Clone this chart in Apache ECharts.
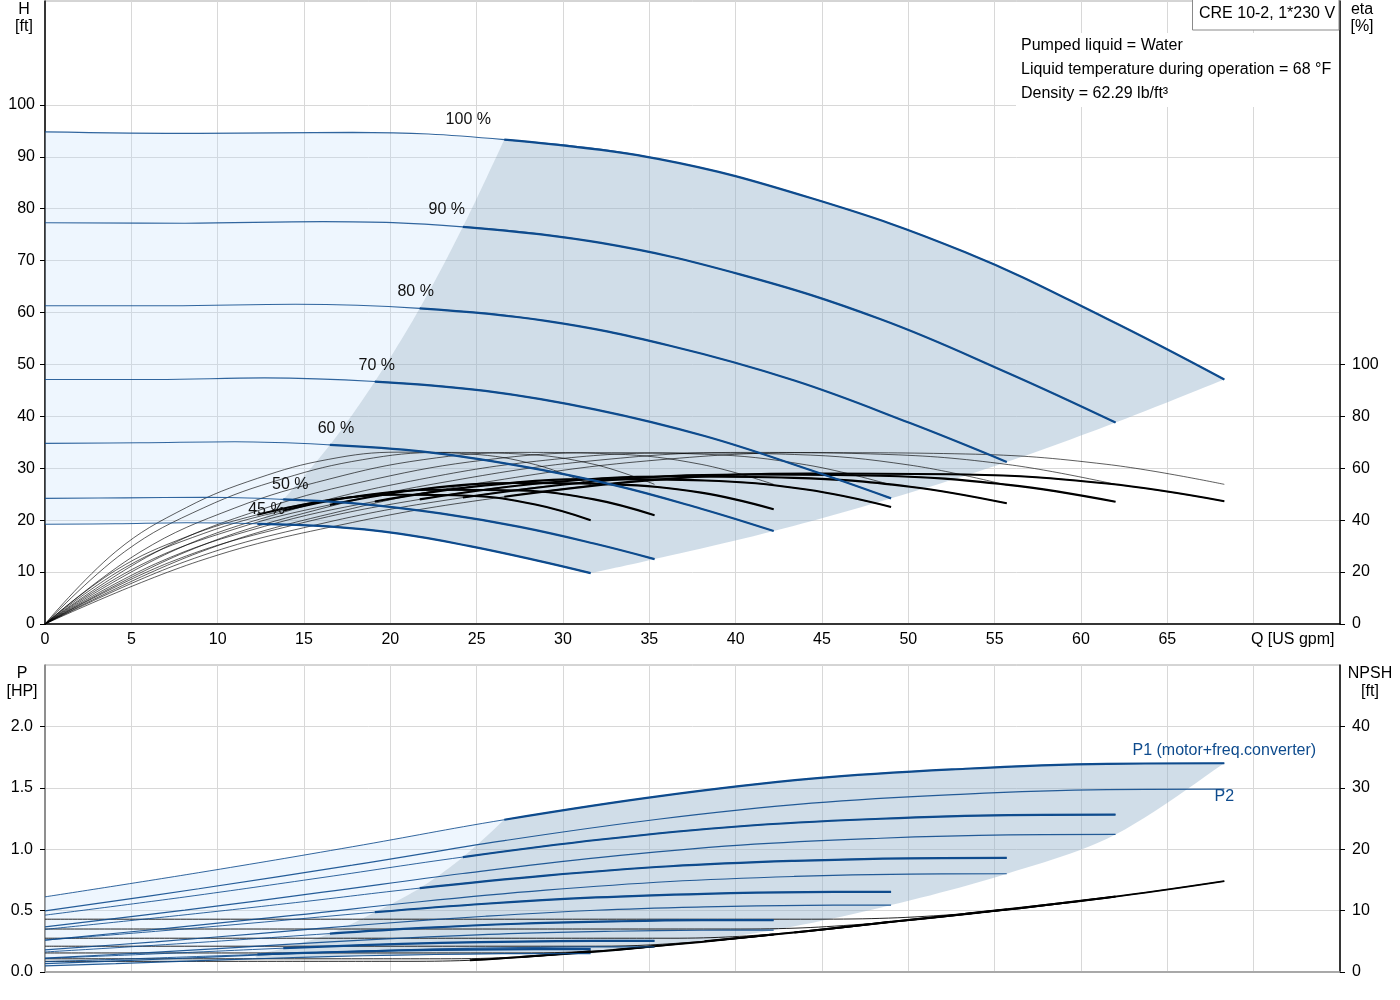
<!DOCTYPE html>
<html><head><meta charset="utf-8">
<script src="https://cdn.jsdelivr.net/npm/echarts@6/dist/echarts.min.js"></script>
<style>html,body{margin:0;padding:0;background:#fff}#c{width:1400px;height:1000px}</style>
</head><body><div id="c"></div>
<script>
// ---------------- DATA ----------------
const speedLabels = ['100 %', '90 %', '80 %', '70 %', '60 %', '50 %', '45 %'];

// flow points per speed curve [US gpm]
const q100 = [0, 8.9, 17.8, 26.6, 35.5, 44.4, 53.3, 61.5, 68.3];
const q90  = [0, 8.1, 16.1, 24.2, 32.2, 40.3, 48.4, 55.8, 62.0];
const q80  = [0, 7.2, 14.5, 21.7, 29.0, 36.2, 43.4, 50.1, 55.7];
const q70  = [0, 6.4, 12.7, 19.1, 25.5, 31.9, 38.2, 44.1, 49.0];
const q60  = [0, 5.5, 11.0, 16.5, 21.9, 27.4, 32.9, 38.0, 42.2];
const q50  = [0, 4.6, 9.2, 13.8, 18.4, 22.9, 27.5, 31.8, 35.3];
const q45  = [0, 4.1, 8.2, 12.3, 16.4, 20.5, 24.6, 28.4, 31.6];

// head H [ft]
const h100 = [94.8, 94.5, 94.7, 93.3, 89.6, 82.0, 71.6, 58.8, 47.1];
const h90  = [77.3, 77.2, 77.5, 76.5, 73.4, 67.3, 58.7, 48.3, 38.8];
const h80  = [61.3, 61.3, 61.6, 60.8, 58.4, 53.6, 46.9, 38.7, 31.2];
const h70  = [47.1, 47.1, 47.4, 46.7, 44.9, 41.3, 36.2, 29.9, 24.2];
const h60  = [34.8, 34.9, 35.1, 34.5, 33.2, 30.5, 26.8, 22.2, 17.9];
const h50  = [24.2, 24.3, 24.4, 24.0, 23.1, 21.3, 18.7, 15.5, 12.5];
const h45  = [19.2, 19.3, 19.5, 19.3, 18.8, 17.4, 15.0, 12.3, 9.8];

// pump efficiency (thin) [%]
const ep100 = [0, 27.5, 44.5, 55.8, 63.2, 66.0, 65.5, 61.5, 53.8];
const ep90  = [0, 27.6, 44.6, 55.9, 63.2, 66.1, 65.4, 61.4, 53.8];
const ep80  = [0, 27.5, 44.4, 55.7, 63.1, 65.9, 65.3, 61.2, 53.5];
const ep70  = [0, 27.6, 44.5, 55.8, 63.2, 66.0, 65.4, 61.3, 53.6];
const ep60  = [0, 27.7, 44.7, 55.9, 63.3, 66.1, 65.5, 61.5, 53.8];
const ep50  = [0, 27.8, 44.8, 56.0, 63.3, 66.1, 65.5, 61.5, 53.8];
const ep45  = [0, 27.9, 44.9, 56.1, 63.4, 66.2, 65.5, 61.4, 53.7];

// total efficiency (thick) [%]
const et100 = [0, 24.2, 39.1, 49.0, 55.6, 58.0, 57.6, 54.1, 47.3];
const et90  = [0, 24.0, 38.8, 48.7, 55.1, 57.6, 57.1, 53.6, 47.1];
const et80  = [0, 23.7, 38.3, 48.0, 54.4, 56.8, 56.3, 52.9, 46.5];
const et70  = [0, 23.2, 37.6, 47.2, 53.4, 55.8, 55.3, 51.8, 45.1];
const et60  = [0, 22.6, 36.6, 45.9, 52.0, 54.3, 53.8, 50.6, 44.2];
const et50  = [0, 21.6, 34.9, 43.7, 49.5, 51.7, 51.4, 48.0, 41.9];
const et45  = [0, 20.7, 33.6, 42.1, 47.7, 49.8, 49.4, 46.0, 40.0];

// P1 (motor+freq.converter) [HP]
const p1_100 = [0.612, 0.809, 1.02, 1.24, 1.43, 1.574, 1.655, 1.695, 1.70];
const p1_90  = [0.463, 0.611, 0.77, 0.936, 1.079, 1.187, 1.248, 1.278, 1.282];
const p1_80  = [0.347, 0.452, 0.565, 0.683, 0.785, 0.861, 0.905, 0.926, 0.929];
const p1_70  = [0.26, 0.331, 0.407, 0.487, 0.556, 0.607, 0.637, 0.651, 0.653];
const p1_60  = [0.163, 0.21, 0.26, 0.313, 0.359, 0.393, 0.412, 0.422, 0.423];
const p1_50  = [0.111, 0.137, 0.165, 0.194, 0.219, 0.237, 0.248, 0.253, 0.254];
const p1_45  = [0.084, 0.103, 0.123, 0.143, 0.161, 0.175, 0.183, 0.186, 0.187];

// P2 [HP]
const p2_100 = [0.498, 0.678, 0.87, 1.07, 1.244, 1.375, 1.449, 1.485, 1.49];
const p2_90  = [0.368, 0.504, 0.65, 0.802, 0.934, 1.033, 1.089, 1.116, 1.12];
const p2_80  = [0.26, 0.358, 0.463, 0.572, 0.666, 0.737, 0.778, 0.797, 0.80];
const p2_70  = [0.18, 0.246, 0.317, 0.391, 0.454, 0.503, 0.53, 0.543, 0.545];
const p2_60  = [0.113, 0.154, 0.199, 0.245, 0.284, 0.315, 0.332, 0.34, 0.341];
const p2_50  = [0.068, 0.093, 0.119, 0.147, 0.171, 0.189, 0.199, 0.204, 0.205];
const p2_45  = [0.05, 0.068, 0.088, 0.108, 0.125, 0.138, 0.146, 0.15, 0.15];

// NPSH [ft]
const n100 = [8.6, 8.6, 8.6, 8.6, 8.6, 8.6, 9.5, 12.1, 14.8];
const n90  = [7.0, 7.0, 7.0, 7.0, 7.0, 7.0, 8.0, 10.2, 12.3];
const n80  = [5.5, 5.5, 5.5, 5.5, 5.5, 5.5, 6.45, 8.5, 10.2];
const n70  = [4.2, 4.2, 4.2, 4.2, 4.2, 4.2, 5.0, 6.65, 8.2];
const n60  = [3.1, 3.1, 3.1, 3.1, 3.1, 3.1, 3.6, 4.9, 6.1];
const n50  = [2.15, 2.15, 2.15, 2.15, 2.15, 2.15, 2.45, 3.3, 4.2];
const n45  = [1.74, 1.74, 1.74, 1.74, 1.74, 1.74, 1.9, 2.6, 3.4];

// axis tick labels
const qTicks    = [0, 5, 10, 15, 20, 25, 30, 35, 40, 45, 50, 55, 60, 65, 70];
const hTicks    = [0, 10, 20, 30, 40, 50, 60, 70, 80, 90, 100];
const etaTicks  = [0, 20, 40, 60, 80, 100];
const pTicks    = [0, 0.5, 1.0, 1.5, 2.0];
const npshTicks = [0, 10, 20, 30, 40];
const infoLines = ['Pumped liquid = Water', 'Liquid temperature during operation = 68 °F', 'Density = 62.29 lb/ft³'];
const pumpTitle = 'CRE 10-2, 1*230 V';

// ---------------- DRAWING ----------------
const FONT = '"Liberation Sans", Arial, sans-serif';
const BLUE = '#0e4b8d';
const Q = [q100, q90, q80, q70, q60, q50, q45];
const H = [h100, h90, h80, h70, h60, h50, h45];
const EP = [ep100, ep90, ep80, ep70, ep60, ep50, ep45];
const ET = [et100, et90, et80, et70, et60, et50, et45];
const P1 = [p1_100, p1_90, p1_80, p1_70, p1_60, p1_50, p1_45];
const P2 = [p2_100, p2_90, p2_80, p2_70, p2_60, p2_50, p2_45];
const NP = [n100, n90, n80, n70, n60, n50, n45];
const MIN = 3, END = 8;
const pairs = (xs, ys) => xs.map((x, k) => [x, ys[k]]);
const LBL_OFF = [[-36, -7], [-16, -4], [-4, -4], [2, -3], [6, -3], [7, -2], [9, -1]];

function catmull(p, n) {
  if (p.length < 3) return p.slice();
  const out = [];
  for (let i = 0; i < p.length - 1; i++) {
    const p0 = p[i - 1] || p[i], p1 = p[i], p2 = p[i + 1], p3 = p[i + 2] || p[i + 1];
    for (let k = 0; k < n; k++) {
      const t = k / n, t2 = t * t, t3 = t2 * t;
      const f = d => 0.5 * (2 * p1[d] + (-p0[d] + p2[d]) * t + (2 * p0[d] - 5 * p1[d] + 4 * p2[d] - p3[d]) * t2 + (-p0[d] + 3 * p1[d] - 3 * p2[d] + p3[d]) * t3);
      out.push([f(0), f(1)]);
    }
  }
  out.push(p[p.length - 1]);
  return out;
}

function region(xi, yi, parts, fill) {
  return {
    type: 'custom', xAxisIndex: xi, yAxisIndex: yi, coordinateSystem: 'cartesian2d',
    silent: true, z: 1, data: [[0, 0]], clip: true,
    renderItem: (params, api) => {
      let pts = [];
      parts.forEach(part => {
        const d = catmull(part.map(p => api.coord(p)), 12);
        if (pts.length) d.shift();
        pts = pts.concat(d);
      });
      return { type: 'polygon', shape: { points: pts }, style: { fill: fill } };
    }
  };
}

function line(xi, yi, data, color, width, z, opacity) {
  return {
    type: 'line', xAxisIndex: xi, yAxisIndex: yi, data: data, smooth: 0.4,
    showSymbol: false, silent: true, z: z, animation: false,
    lineStyle: { color: color, width: width, opacity: opacity == null ? 1 : opacity },
    emphasis: { disabled: true }
  };
}

const series = [];
const LIGHT = 'rgba(190,222,252,0.26)';
const DARK = 'rgba(150,180,205,0.45)';

// --- top: regions
{
  const upper = pairs(q100, h100).slice(MIN);
  const ends = Q.map((q, i) => [q[END], H[i][END]]);
  const lower = pairs(q45, h45).slice(MIN).reverse();
  const mins = Q.map((q, i) => [q[MIN], H[i][MIN]]).reverse();
  series.push(region(0, 0, [pairs(q100, h100).slice(0, MIN + 1), mins.slice().reverse(), pairs(q45, h45).slice(0, MIN + 1).reverse()], LIGHT));
  series.push(region(0, 0, [upper, ends, lower, mins], DARK));
}
// --- bottom: regions
{
  const upper = pairs(q100, p1_100).slice(MIN);
  const ends = [[q100[END], p1_100[END]]].concat(Q.slice(1).map((q, i) => [q[END], P2[i + 1][END]]));
  const lower = pairs(q45, p2_45).slice(MIN).reverse();
  const mins = [[q45[MIN], p2_45[MIN]]].concat(Q.map((q, i) => [q[MIN], P1[i][MIN]]).reverse());
  series.push(region(1, 2, [pairs(q100, p1_100).slice(0, MIN + 1), mins.slice().reverse(), pairs(q45, p2_45).slice(0, MIN + 1).reverse()], LIGHT));
  series.push(region(1, 2, [upper, ends, lower, mins], DARK));
}

for (let i = 0; i < 7; i++) {
  const qh = pairs(Q[i], H[i]);
  // QH curves
  series.push(line(0, 0, qh, BLUE, 1.1, 4, 0.85));
  const thick = line(0, 0, qh.slice(MIN).map((p, k) => k === 0 ? {
    value: p,
    label: { show: true, formatter: speedLabels[i], position: 'top', offset: LBL_OFF[i], fontSize: 16, color: '#111', fontFamily: FONT }
  } : p), BLUE, 2.2, 5);
  thick.showSymbol = true; thick.showAllSymbol = true; thick.symbol = 'circle'; thick.symbolSize = 0.1;
  thick.itemStyle = { color: 'rgba(0,0,0,0)' };
  series.push(thick);
  // efficiency
  series.push(line(0, 1, pairs(Q[i], EP[i]), '#000', 0.8, 3, 0.8));
  series.push(line(0, 1, pairs(Q[i], ET[i]), '#000', 0.8, 3, 0.8));
  series.push(line(0, 1, pairs(Q[i], ET[i]).slice(MIN), '#000', 2.1, 3));
  // power
  const p1 = pairs(Q[i], P1[i]);
  const p2 = pairs(Q[i], P2[i]);
  series.push(line(1, 2, p1, BLUE, 1, 4, 0.85));
  const p1t = line(1, 2, p1.slice(MIN), BLUE, 2.2, 5);
  const p2t = line(1, 2, p2, BLUE, 1.2, 4, 0.9);
  if (i === 0) {
    const lastP1 = p1t.data.length - 1;
    p1t.data = p1t.data.map((p, k) => k === lastP1 ? { value: p, label: { show: true, formatter: 'P1 (motor+freq.converter)', position: 'top', distance: 5, fontSize: 16, color: BLUE, fontFamily: FONT } } : p);
    p2t.data = p2t.data.map((p, k) => k === END ? { value: p, label: { show: true, formatter: 'P2', position: 'bottom', distance: 0, fontSize: 16, color: BLUE, fontFamily: FONT } } : p);
    [p1t, p2t].forEach(s => { s.showSymbol = true; s.showAllSymbol = true; s.symbol = 'circle'; s.symbolSize = 0.1; s.itemStyle = { color: 'rgba(0,0,0,0)' }; });
  }
  series.push(p1t, p2t);
  // NPSH: thin full curve, thick along the rising envelope
  const np = pairs(Q[i], NP[i]);
  series.push(line(1, 3, np, '#000', 1, 3, 0.85));
  series.push(line(1, 3, np.slice(6), '#000', 2, 3));
}

const axisLbl = { fontSize: 16, color: '#000', fontFamily: FONT };
const grid0 = { left: 45, right: 60, top: 1, bottom: 376, show: true, borderColor: '#aaa', borderWidth: 1, backgroundColor: 'transparent' };
const grid1 = { left: 45, right: 60, top: 665, bottom: 28, show: true, borderColor: '#aaa', borderWidth: 1, backgroundColor: 'transparent' };
const split = { show: true, lineStyle: { color: '#d8d8d8', width: 1 } };

function txt(x, y, text, align, color) {
  return { type: 'text', x: x, y: y, z: 101, silent: true,
    style: { text: text, fill: color || '#000', font: '16px ' + FONT, align: align, textAlign: align, verticalAlign: 'middle', textVerticalAlign: 'middle' } };
}

const graphic = [
  txt(24, 10, 'H', 'center'), txt(24, 27, '[ft]', 'center'),
  txt(1362, 10, 'eta', 'center'), txt(1362, 27, '[%]', 'center'),
  txt(22, 674, 'P', 'center'), txt(22, 692, '[HP]', 'center'),
  txt(1370, 674, 'NPSH', 'center'), txt(1370, 692, '[ft]', 'center'),
  { type: 'rect', z: 100, silent: true, shape: { x: 1016, y: 33, width: 323, height: 74 }, style: { fill: '#fff' } },
  txt(1021, 46, infoLines[0], 'left'), txt(1021, 70, infoLines[1], 'left'), txt(1021, 94, infoLines[2], 'left'),
  { type: 'rect', z: 100, silent: true, shape: { x: 1192.5, y: -1, width: 146.5, height: 31 }, style: { fill: '#fff', stroke: '#8a8a8a', lineWidth: 1 } },
  txt(1199, 14, pumpTitle, 'left')
];

const option = {
  animation: false,
  backgroundColor: '#fff',
  textStyle: { fontFamily: FONT },
  grid: [grid0, grid1],
  xAxis: [
    { type: 'value', gridIndex: 0, min: 0, max: 75, interval: 5,
      axisLine: { show: true, onZero: false, lineStyle: { color: '#000', width: 1.5 } },
      axisTick: { show: false },
      axisLabel: Object.assign({}, axisLbl, { margin: 8, customValues: qTicks,
        formatter: v => v === 70 ? '{q|Q [US gpm]}' : String(v),
        rich: { q: { fontSize: 16, color: '#000', fontFamily: FONT, padding: [0, 0, 0, 78] } } }),
      splitLine: split },
    { type: 'value', gridIndex: 1, min: 0, max: 75, interval: 5,
      axisLine: { show: true, onZero: false, lineStyle: { color: '#999', width: 1.5 } },
      axisTick: { show: false }, axisLabel: { show: false }, splitLine: split }
  ],
  yAxis: [
    { type: 'value', gridIndex: 0, min: 0, max: 120, interval: 10, position: 'left',
      axisLine: { show: true, onZero: false, lineStyle: { color: '#000', width: 1.5 } },
      axisTick: { show: true, length: 5, customValues: hTicks, lineStyle: { color: '#000' } },
      axisLabel: Object.assign({}, axisLbl, { margin: 10, customValues: hTicks }),
      splitLine: split },
    { type: 'value', gridIndex: 0, min: 0, max: 240, interval: 20, position: 'right',
      axisLine: { show: true, onZero: false, lineStyle: { color: '#000', width: 1.5 } },
      axisTick: { show: true, length: 5, customValues: etaTicks, lineStyle: { color: '#000' } },
      axisLabel: Object.assign({}, axisLbl, { margin: 12, customValues: etaTicks }),
      splitLine: { show: false } },
    { type: 'value', gridIndex: 1, min: 0, max: 2.5, interval: 0.5, position: 'left',
      axisLine: { show: true, onZero: false, lineStyle: { color: '#777', width: 1.5 } },
      axisTick: { show: true, length: 5, customValues: pTicks, lineStyle: { color: '#000' } },
      axisLabel: Object.assign({}, axisLbl, { margin: 12, customValues: pTicks, formatter: v => Number(v).toFixed(1) }),
      splitLine: split },
    { type: 'value', gridIndex: 1, min: 0, max: 50, interval: 10, position: 'right',
      axisLine: { show: true, onZero: false, lineStyle: { color: '#000', width: 1.5 } },
      axisTick: { show: true, length: 5, customValues: npshTicks, lineStyle: { color: '#000' } },
      axisLabel: Object.assign({}, axisLbl, { margin: 12, customValues: npshTicks }),
      splitLine: { show: false } }
  ],
  graphic: graphic,
  series: series
};

const chart = echarts.init(document.getElementById('c'), null, { renderer: 'canvas' });
chart.setOption(option);
</script>
</body></html>
